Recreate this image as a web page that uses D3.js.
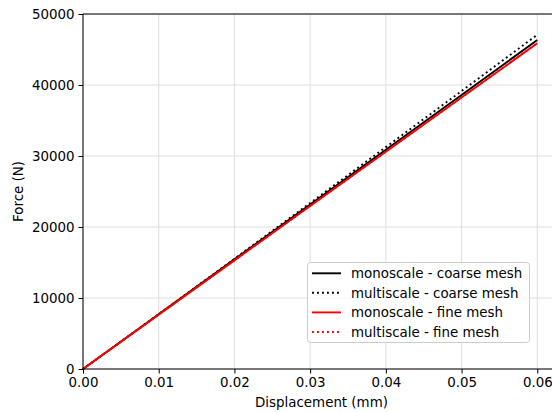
<!DOCTYPE html>
<html><head><meta charset="utf-8">
<script src="https://cdn.jsdelivr.net/npm/d3@7"></script>
<style>
html,body{margin:0;padding:0;background:#fff;overflow:hidden;}
text{font-family:"DejaVu Sans",sans-serif;fill:#000;}
</style></head>
<body>
<script>
const displacement = [0, 0.01, 0.02, 0.03, 0.04, 0.05, 0.06];
const monoCoarse  = [0, 7720, 15440, 23160, 30880, 38600, 46330];
const multiCoarse = [0, 7730, 15520, 23380, 31250, 39150, 47080];
const monoFine    = [0, 7650, 15300, 22950, 30600, 38240, 45880];
const multiFine   = [0, 7655, 15310, 22965, 30620, 38265, 45910];
const seriesNames = ["monoscale - coarse mesh", "multiscale - coarse mesh", "monoscale - fine mesh", "multiscale - fine mesh"];
const xTicks = [0, 0.01, 0.02, 0.03, 0.04, 0.05, 0.06];
const yTicks = [0, 10000, 20000, 30000, 40000, 50000];

const W = 552, H = 412;
const pL = 83, pT = 14, pR = 560, pB = 369;
const FS = 13.4;

const svg = d3.select("body").append("svg").attr("width", W).attr("height", H);
const x = d3.scaleLinear().domain([0, 0.063]).range([pL, pR]);
const y = d3.scaleLinear().domain([0, 50000]).range([pB, pT]);

// grid
const g = svg.append("g");
g.selectAll(".gx").data(xTicks).enter().append("line")
  .attr("x1", d => x(d)).attr("x2", d => x(d)).attr("y1", pT).attr("y2", pB)
  .attr("stroke", "#dedede").attr("stroke-width", 1);
g.selectAll(".gy").data(yTicks).enter().append("line")
  .attr("x1", pL).attr("x2", pR).attr("y1", d => y(d)).attr("y2", d => y(d))
  .attr("stroke", "#dedede").attr("stroke-width", 1);

// lines
const styles = [
  {data: monoCoarse, color: "#000", dash: null},
  {data: multiCoarse, color: "#000", dash: "1.9,3.1"},
  {data: monoFine, color: "#ff0000", dash: null},
  {data: multiFine, color: "#ff0000", dash: "1.9,3.1"}
];
const line = d3.line().x((d, i) => x(displacement[i])).y(d => y(d));
styles.forEach(s => {
  svg.append("path").attr("d", line(s.data)).attr("fill", "none")
    .attr("stroke", s.color).attr("stroke-width", 1.9)
    .attr("stroke-dasharray", s.dash);
});

// axes
const xAxis = d3.axisBottom(x).tickValues(xTicks).tickFormat(d3.format(".2f")).tickSize(4.5).tickPadding(4);
const yAxis = d3.axisLeft(y).tickValues(yTicks).tickFormat(d3.format("d")).tickSize(4.5).tickPadding(4);
const ax = svg.append("g").attr("transform", `translate(0,${pB})`).call(xAxis);
const ay = svg.append("g").attr("transform", `translate(${pL},0)`).call(yAxis);
[ax, ay].forEach(a => {
  a.selectAll("text").attr("font-size", FS).attr("font-family", "DejaVu Sans").attr("fill", "#000");
  a.selectAll("line").attr("stroke", "#000").attr("stroke-width", 1);
  a.select(".domain").remove();
});
ax.selectAll("text").attr("dy", "0.71em");
// spines
svg.append("line").attr("x1", pL).attr("x2", pL).attr("y1", pT).attr("y2", pB).attr("stroke", "#000").attr("stroke-width", 1);
svg.append("line").attr("x1", pL).attr("x2", pR).attr("y1", pB).attr("y2", pB).attr("stroke", "#000").attr("stroke-width", 1);
svg.append("line").attr("x1", pL).attr("x2", pR).attr("y1", pT).attr("y2", pT).attr("stroke", "#000").attr("stroke-width", 1);

// axis labels
svg.append("text").attr("x", (pL + pR) / 2).attr("y", 407).attr("text-anchor", "middle")
  .attr("font-size", FS).text("Displacement (mm)");
svg.append("text").attr("transform", `translate(23,${(pT + pB) / 2}) rotate(-90)`)
  .attr("text-anchor", "middle").attr("font-size", FS).text("Force (N)");

// legend
const lg = svg.append("g");
lg.append("rect").attr("x", 307.5).attr("y", 262.5).attr("width", 222).attr("height", 80)
  .attr("rx", 3).attr("fill", "#fff").attr("fill-opacity", 0.8).attr("stroke", "#cccccc").attr("stroke-width", 1);
const rowY = [273.3, 292.8, 312.4, 332];
styles.forEach((s, i) => {
  lg.append("line").attr("x1", 312).attr("x2", 341).attr("y1", rowY[i]).attr("y2", rowY[i])
    .attr("stroke", s.color).attr("stroke-width", 1.9).attr("stroke-dasharray", s.dash);
  lg.append("text").attr("x", 351).attr("y", rowY[i]).attr("dy", "0.36em")
    .attr("font-size", FS).text(seriesNames[i]);
});
</script>
</body></html>
